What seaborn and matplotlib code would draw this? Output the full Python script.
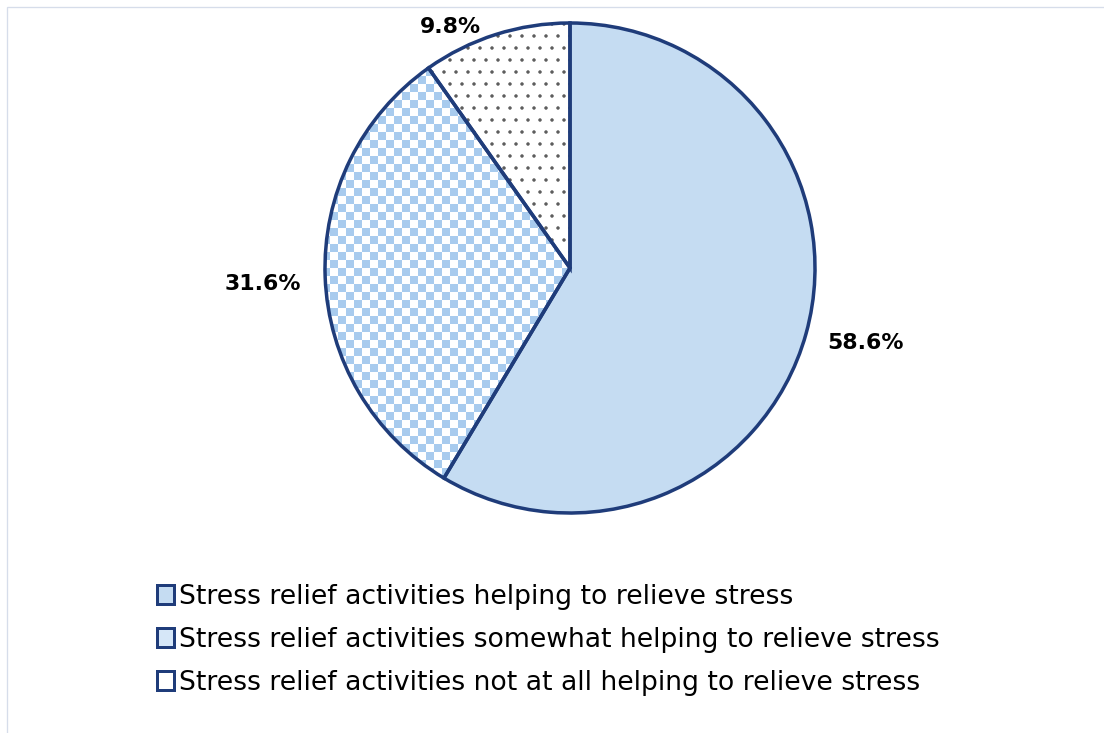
import numpy as np
import matplotlib
matplotlib.use("Agg")
import matplotlib.pyplot as plt
import seaborn as sns
from matplotlib.patches import Patch, Rectangle
from matplotlib.colors import ListedColormap

# ---------------- data ----------------
categories = [
    "Stress relief activities helping to relieve stress",
    "Stress relief activities somewhat helping to relieve stress",
    "Stress relief activities not at all helping to relieve stress",
]
values = [58.6, 31.6, 9.8]
pct_labels = ["58.6%", "31.6%", "9.8%"]

# ---------------- style ----------------
sns.set_theme(style="white")
plt.rcParams["font.family"] = ["DejaVu Sans"]
plt.rcParams["text.color"] = "black"

EDGE = "#1F3C7A"
SOLID = "#C5DCF2"
CHECK = "#A8CBEE"
DOT = "#5A5A5A"
BORDER = "#D6DDEA"
plt.rcParams["hatch.color"] = DOT
plt.rcParams["hatch.linewidth"] = 1.0

DPI = 72
W, H = 1104, 733
fig = plt.figure(figsize=(W / DPI, H / DPI), dpi=DPI)
fig.patch.set_facecolor("white")

# chart area border (light line at top and left)
fig.patches.append(Rectangle((7 / W, -0.2), 1.5, 1.2 - 7 / H,
                             transform=fig.transFigure, fill=False,
                             edgecolor=BORDER, linewidth=1.3, clip_on=False))

R = 245.0      # pie radius in px
HALF = 300.0   # half-size of axes in px
cx, cy = 570.0, 268.0
ax = fig.add_axes([(cx - HALF) / W, (H - cy - HALF) / H, 2 * HALF / W, 2 * HALF / H])

# base fills
base, _ = ax.pie(values, startangle=90, counterclock=False,
                 colors=[SOLID, "white", "white"],
                 wedgeprops=dict(linewidth=0))
for w in base:
    w.set_zorder(1)
base[2].set_hatch(".")
base[2].set_edgecolor(DOT)
base[2].set_linewidth(0)

# checkerboard texture for slice 2
cell = 8.0 / R
n = 70
yy, xx = np.indices((n, n))
board = (xx + yy) % 2
ext = n * cell / 2
im = ax.imshow(board, cmap=ListedColormap(["white", CHECK]),
               extent=(-ext, ext, -ext, ext), interpolation="nearest", zorder=2)
im.set_clip_path(base[1])

# outlines
outl, _ = ax.pie(values, startangle=90, counterclock=False,
                 colors=["none"] * 3,
                 wedgeprops=dict(linewidth=3.5, edgecolor=EDGE, fill=False))
for w in outl:
    w.set_zorder(3)
    w.set_joinstyle("miter")

ax.set_xlim(-HALF / R, HALF / R)
ax.set_ylim(-HALF / R, HALF / R)
ax.set_aspect("equal")
ax.axis("off")

# data labels (outside end), offsets in pixels from the slice edge midpoint
label_offsets = [(59, -15.6), (-62, -12.8), (-45, 1.2)]
for w, txt, off in zip(outl, pct_labels, label_offsets):
    mid = np.deg2rad((w.theta1 + w.theta2) / 2)
    ax.annotate(txt, xy=(np.cos(mid), np.sin(mid)), xytext=off,
                textcoords="offset pixels", ha="center", va="baseline",
                fontsize=22, fontweight="bold", color="black",
                annotation_clip=False)

# legend
handles = [
    Patch(facecolor=SOLID, edgecolor=EDGE, linewidth=3),
    Patch(facecolor="#D6E7F8", edgecolor=EDGE, linewidth=3),
    Patch(facecolor="white", edgecolor=EDGE, linewidth=3),
]
fig.legend(handles, categories, loc="upper left",
           bbox_to_anchor=(157 / W, 1 - 584 / H), frameon=False,
           fontsize=26.6, handlelength=0.64, handleheight=0.7,
           handletextpad=0.18, labelspacing=0.64, borderpad=0,
           borderaxespad=0, labelcolor="black")

fig.savefig("out.png", dpi=DPI, facecolor="white")
